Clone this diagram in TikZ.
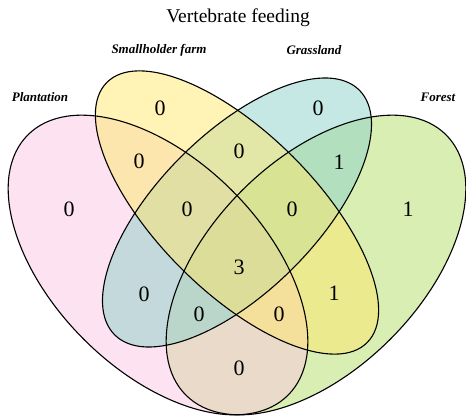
\documentclass[tikz,border=0pt]{standalone}
\usepackage{fontspec}
\setmainfont{Liberation Serif}
\definecolor{cpink}{RGB}{251,199,227}
\definecolor{cyellow}{RGB}{255,231,107}
\definecolor{cblue}{RGB}{141,209,201}
\definecolor{cgreen}{RGB}{179,221,103}
\tikzset{
  setfill/.style={fill opacity=0.5},
  outline/.style={draw=black,line width=1.1pt},
  num/.style={font=\fontsize{22}{24}\selectfont, inner sep=0pt},
  lab/.style={font=\fontsize{13}{15}\selectfont\bfseries\itshape, inner sep=0pt},
  ttl/.style={font=\fontsize{19.5}{22}\selectfont, inner sep=0pt}
}
\begin{document}
\begin{tikzpicture}[x=1pt,y=-1pt]
\useasboundingbox (0,0) rectangle (466,419);
% fills
\begin{scope}[shift={(316,265)},rotate=45]
  \fill[cgreen,setfill] (0,0) ellipse [x radius=184pt,y radius=105pt];
\end{scope}
\begin{scope}[shift={(158,265)},rotate=-45]
  \fill[cpink,setfill] (0,0) ellipse [x radius=184pt,y radius=105pt];
\end{scope}
\begin{scope}[shift={(237,212.5)},rotate=45]
  \fill[cblue,setfill] (0,0) ellipse [x radius=173pt,y radius=79pt];
\end{scope}
\begin{scope}[shift={(237,212.5)},rotate=-45]
  \fill[cyellow,setfill] (0,0) ellipse [x radius=184pt,y radius=79pt];
\end{scope}
% outlines
\begin{scope}[shift={(316,265)},rotate=45]
  \draw[outline] (0,0) ellipse [x radius=184pt,y radius=105pt];
\end{scope}
\begin{scope}[shift={(158,265)},rotate=-45]
  \draw[outline] (0,0) ellipse [x radius=184pt,y radius=105pt];
\end{scope}
\begin{scope}[shift={(237,212.5)},rotate=45]
  \draw[outline] (0,0) ellipse [x radius=173pt,y radius=79pt];
\end{scope}
\begin{scope}[shift={(237,212.5)},rotate=-45]
  \draw[outline] (0,0) ellipse [x radius=184pt,y radius=79pt];
\end{scope}
% title and labels
\node[ttl] (title) at (238,18) {Vertebrate feeding};
\node[lab] (lsmall) at (159,50) {Smallholder farm};
\node[lab] (lgrass) at (314,50) {Grassland};
\node[lab] (lplant) at (40,97) {Plantation};
\node[lab] (lforest) at (438,97) {Forest};
% counts
\node[num] (n1) at (69,209) {0};
\node[num] (n2) at (160,108) {0};
\node[num] (n3) at (318,108) {0};
\node[num] (n4) at (408,209) {1};
\node[num] (n5) at (139,161) {0};
\node[num] (n6) at (239,151) {0};
\node[num] (n7) at (339,162) {1};
\node[num] (n8) at (187,209) {0};
\node[num] (n9) at (292,209) {0};
\node[num] (n10) at (239,267) {3};
\node[num] (n11) at (144,294) {0};
\node[num] (n12) at (334,293) {1};
\node[num] (n13) at (199,314) {0};
\node[num] (n14) at (279,314) {0};
\node[num] (n15) at (239,368) {0};
\end{tikzpicture}
\end{document}
